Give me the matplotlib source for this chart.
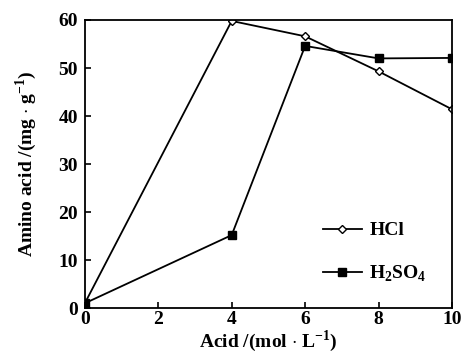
import numpy as np
import matplotlib
matplotlib.use("Agg")
import matplotlib.pyplot as plt

plt.rcParams['font.family'] = ['Liberation Serif', 'DejaVu Serif']
plt.rcParams['font.weight'] = 'bold'
plt.rcParams['mathtext.fontset'] = 'custom'
plt.rcParams['mathtext.rm'] = 'Liberation Serif:bold'
plt.rcParams['mathtext.bf'] = 'Liberation Serif:bold'

acid = [0, 4, 6, 8, 10]
hcl = [1, 59.8, 56.6, 49.3, 41.4]
h2so4 = [1, 15.2, 54.6, 52.0, 52.1]

fig = plt.figure(figsize=(4.66, 3.57), dpi=100)
ax = fig.add_axes([0.182, 0.137, 0.788, 0.807])

ax.plot(acid, hcl, color='black', lw=1.3, marker='D', ms=4.5,
        mfc='white', mec='black', mew=1.0, label='HCl')
ax.plot(acid, h2so4, color='black', lw=1.3, marker='s', ms=6,
        mfc='black', mec='black', label=r'H$_2$SO$_4$')

ax.set_xlim(0, 10)
ax.set_ylim(0, 60)
ax.set_xticks([0, 2, 4, 6, 8, 10])
ax.set_yticks([0, 10, 20, 30, 40, 50, 60])
ax.tick_params(direction='in', length=4, width=1.2, labelsize=14, pad=2)
ax.tick_params(axis='y', pad=5)
for lab in ax.get_xticklabels() + ax.get_yticklabels():
    lab.set_fontweight('bold')
for s in ax.spines.values():
    s.set_linewidth(1.3)

ax.set_xlabel(r'Acid /(mol $\cdot$ L$^{-1}$)', fontsize=14, fontweight='bold', labelpad=0)
ax.set_ylabel(r'Amino acid /(mg $\cdot$ g$^{-1}$)', fontsize=14, fontweight='bold', labelpad=14)

ax.legend(loc='upper left', bbox_to_anchor=(0.6, 0.36), frameon=False,
          fontsize=14, handlelength=2.0, labelspacing=1.25, handletextpad=0.4)

fig.savefig('out.png', dpi=100)
